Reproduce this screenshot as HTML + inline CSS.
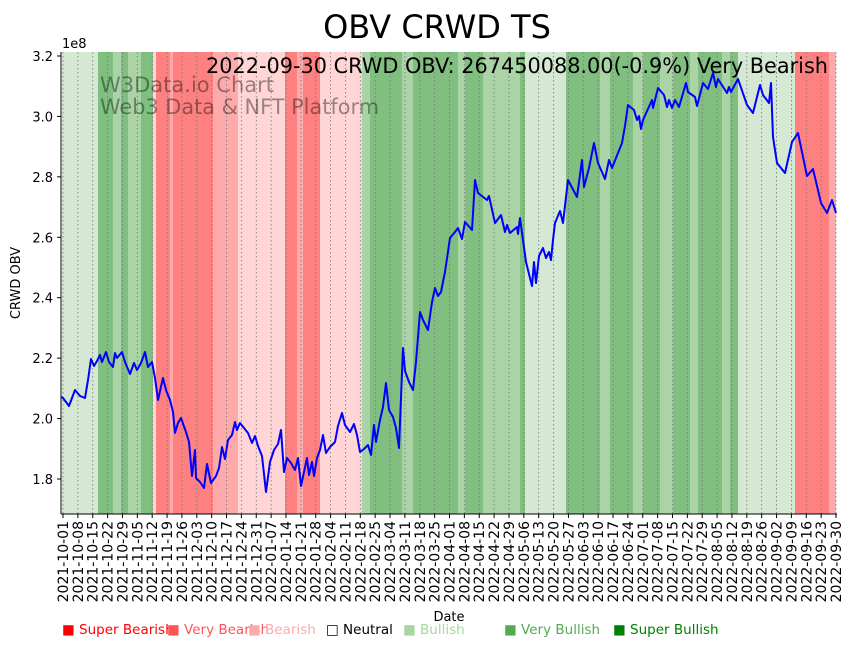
<!DOCTYPE html>
<html><head><meta charset="utf-8"><style>
body{margin:0;background:#fff;}
svg{display:block;font-family:"DejaVu Sans","Liberation Sans",sans-serif;}
</style></head><body>
<svg id="s" width="853" height="646" viewBox="0 0 853 646" xmlns="http://www.w3.org/2000/svg">
<g id="bands"></g>
<g id="grid"></g>
<polyline id="line" fill="none" stroke="#0000ff" stroke-width="2" stroke-linejoin="round" points=""/>
<line x1="61" y1="52" x2="61" y2="514" stroke="#000" stroke-width="1"/>
<line x1="61" y1="514" x2="837" y2="514" stroke="#000" stroke-width="1"/>
<g id="yt" font-size="13"></g>
<g id="xt" font-size="14"></g>
<text x="437" y="38" font-size="32" text-anchor="middle">OBV CRWD TS</text>
<text x="828" y="73" font-size="21.5" text-anchor="end" textLength="622" lengthAdjust="spacingAndGlyphs">2022-09-30 CRWD OBV: 267450088.00(-0.9%) Very Bearish</text>
<text x="100" y="92" font-size="21" fill="#000" fill-opacity="0.4">W3Data.io Chart</text>
<text x="100" y="114" font-size="21" fill="#000" fill-opacity="0.4" textLength="279" lengthAdjust="spacingAndGlyphs">Web3 Data &amp; NFT Platform</text>
<text x="62" y="48" font-size="13">1e8</text>
<text transform="translate(20,283) rotate(-90)" font-size="13" text-anchor="middle">CRWD OBV</text>
<text x="449" y="621" font-size="13" text-anchor="middle">Date</text>
<g font-size="13.5">
<text x="62" y="634" fill="#ff0000">■ Super Bearish</text>
<text x="167" y="634" fill="#ff5555">■ Very Bearish</text>
<text x="248" y="634" fill="#ffaaaa">■ Bearish</text>
<text x="326" y="634" fill="#000">□ Neutral</text>
<text x="403" y="634" fill="#a8d5a2">■ Bullish</text>
<text x="504" y="634" fill="#55aa55">■ Very Bullish</text>
<text x="613" y="634" fill="#008000">■ Super Bullish</text>
</g>
</svg>
<script>
var NS="http://www.w3.org/2000/svg";
function el(p,t,a){var e=document.createElementNS(NS,t);for(var k in a)e.setAttribute(k,a[k]);p.appendChild(e);return e;}
var L="#d5e8d4",M="#aad4a6",D="#80bf80",R="#ff8080",LR="#ffaaaa",P="#ffd5d5";
var bands=[[62,98,L],[98,113,D],[113,128,M],[121,128,D],[128,141,M],[141,153,D],[153,156,P],[156,213,R],[170,173,LR],[213,238,LR],[238,285,P],[285,297,R],[297,303,LR],[303,320,R],[320,362,P],[362,370,M],[370,402,D],[402,413,M],[413,458,D],[458,465,M],[465,483,D],[483,520,M],[520,525,D],[525,566,L],[566,600,D],[600,610,M],[610,633,D],[633,643,M],[643,660,D],[660,673,M],[673,690,D],[690,698,M],[698,722,D],[722,730,M],[730,738,D],[738,795,L],[795,829,R],[829,836,LR]];
var bg=document.getElementById("bands");
bands.forEach(function(b){el(bg,"rect",{x:b[0],y:52,width:b[1]-b[0],height:462,fill:b[2]});});
var grid=document.getElementById("grid"),xt=document.getElementById("xt");
var d0=new Date(Date.UTC(2021,9,1));
for(var i=0;i<=52;i++){
 var x=63+i*773/52;
 el(grid,"line",{x1:x,y1:52,x2:x,y2:514,stroke:"#777","stroke-width":0.8,"stroke-dasharray":"1.5,2.5"});
 el(xt,"line",{x1:x,y1:514,x2:x,y2:518,stroke:"#000"});
 var d=new Date(d0.getTime()+i*7*86400000);
 var s=d.toISOString().slice(0,10);
 var t=el(xt,"text",{transform:"translate("+(x+5)+",521) rotate(-90)","text-anchor":"end"});t.textContent=s;
}
var yt=document.getElementById("yt");
for(var v=18;v<=32;v+=2){
 var y=479-(v-18)/2*60.43;
 el(yt,"line",{x1:57,y1:y,x2:61,y2:y,stroke:"#000"});
 var t=el(yt,"text",{x:53,y:y+5,"text-anchor":"end"});t.textContent=(v/10).toFixed(1);
}
var pts=[[61,397],[63,398],[69,406],[75,390],[80,396],[85,398],[88,380],[91,359],[94,366],[97,361],[100,355],[102,362],[106,352],[109,362],[113,367],[115,353],[117,358],[122,352],[125,362],[130,374],[134,363],[137,370],[141,363],[145,352],[148,367],[152,362],[155,378],[158,400],[163,378],[166,390],[170,400],[173,412],[175,433],[178,423],[181,418],[186,432],[189,442],[192,476],[195,450],[196,478],[200,482],[204,488],[207,464],[211,483],[216,476],[219,468],[222,447],[225,459],[228,440],[232,435],[235,422],[237,430],[240,423],[244,428],[248,433],[252,443],[255,436],[258,446],[262,456],[266,492],[270,462],[274,450],[278,444],[281,430],[284,472],[287,458],[291,463],[295,470],[298,458],[301,486],[304,472],[307,458],[309,475],[312,462],[314,476],[317,458],[320,450],[323,435],[326,453],[330,447],[335,442],[338,426],[342,413],[345,425],[350,432],[354,424],[357,435],[360,452],[364,449],[368,445],[371,455],[374,425],[376,442],[380,420],[383,407],[386,383],[389,410],[393,417],[396,428],[399,448],[403,348],[405,371],[409,382],[413,390],[416,362],[420,312],[423,320],[428,330],[432,302],[435,288],[438,296],[441,292],[445,272],[450,238],[455,232],[458,228],[462,239],[465,222],[472,230],[475,180],[478,193],[487,200],[489,196],[495,223],[501,215],[505,232],[507,225],[510,233],[517,227],[518,234],[520,218],[523,240],[526,262],[529,274],[532,286],[534,262],[536,283],[539,256],[543,248],[546,258],[549,252],[551,260],[553,240],[555,223],[560,211],[563,223],[568,180],[577,197],[582,160],[584,187],[589,168],[594,143],[598,163],[605,179],[609,160],[612,168],[622,143],[625,126],[628,105],[634,110],[637,120],[639,116],[641,129],[643,120],[652,100],[653,108],[658,88],[664,95],[667,107],[669,100],[672,108],[675,100],[679,107],[686,83],[688,92],[695,97],[697,106],[703,83],[708,89],[713,73],[716,87],[718,79],[727,93],[729,87],[731,92],[738,79],[747,105],[753,113],[760,85],[763,95],[769,103],[771,83],[773,137],[777,163],[785,173],[792,142],[798,133],[807,176],[813,169],[821,203],[827,213],[832,200],[836,213]];
document.getElementById("line").setAttribute("points",pts.map(function(p){return p.join(",");}).join(" "));
</script>
</body></html>
